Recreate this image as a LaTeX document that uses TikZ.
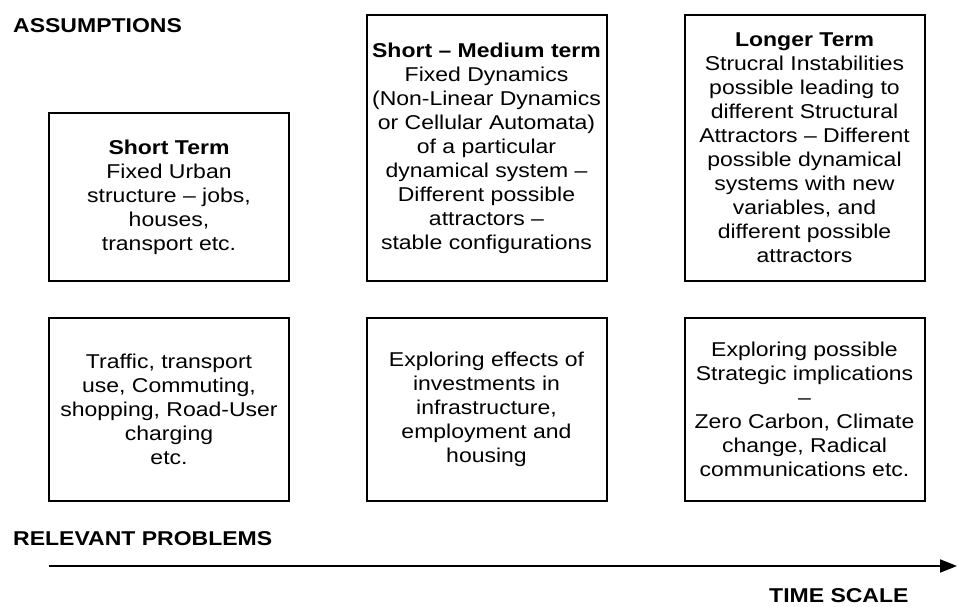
\documentclass[tikz,border=0pt]{standalone}
\usepackage{fontspec}
\setmainfont{Liberation Sans}[FakeStretch=1.15]
\usetikzlibrary{arrows.meta}
\begin{document}
\begin{tikzpicture}[x=1pt,y=-1pt,
  every node/.style={font=\fontsize{20}{24}\selectfont, inner sep=0pt},
  boxnode/.style={draw=black, line width=2pt, align=center, minimum width=240pt},
  toprow/.style={boxnode, minimum height=266pt},
  botrow/.style={boxnode, minimum height=183pt},
  labeltext/.style={font=\fontsize{20}{24}\selectfont\bfseries, anchor=base west}
]
\useasboundingbox (0,0) rectangle (958,606);

\node[labeltext] (lassump) at (13,32) {ASSUMPTIONS};
\node[labeltext] (lprob) at (13,545) {RELEVANT PROBLEMS};
\node[labeltext] (ltime) at (769,602) {TIME SCALE};

\node[boxnode, minimum height=168pt] (a1) at (169,197)
  {\textbf{Short Term}\\Fixed Urban\\structure – jobs,\\houses,\\transport etc.};
\node[toprow] (a2) at (486.5,148)
  {\textbf{Short – Medium term}\\Fixed Dynamics\\(Non-Linear Dynamics\\or Cellular Automata)\\of a particular\\dynamical system –\\Different possible\\attractors –\\stable configurations};
\node[toprow] (a3) at (804.5,148)
  {\textbf{Longer Term}\\Strucral Instabilities\\possible leading to\\different Structural\\Attractors – Different\\possible dynamical\\systems with new\\variables, and\\different possible\\attractors};

\node[botrow] (p1) at (169,409.5)
  {Traffic, transport\\use, Commuting,\\shopping, Road-User\\charging\\etc.};
\node[botrow] (p2) at (486.5,409.5)
  {Exploring effects of\\investments in\\infrastructure,\\employment and\\housing};
\node[botrow] (p3) at (804.5,409.5)
  {Exploring possible\\Strategic implications\\–\\Zero Carbon, Climate\\change, Radical\\communications etc.};

\coordinate (arrowstart) at (49,566);
\coordinate (arrowend) at (957,566);
\draw[line width=2pt, -{Triangle[length=17pt,width=13pt]}] (arrowstart) -- (arrowend);
\end{tikzpicture}
\end{document}
